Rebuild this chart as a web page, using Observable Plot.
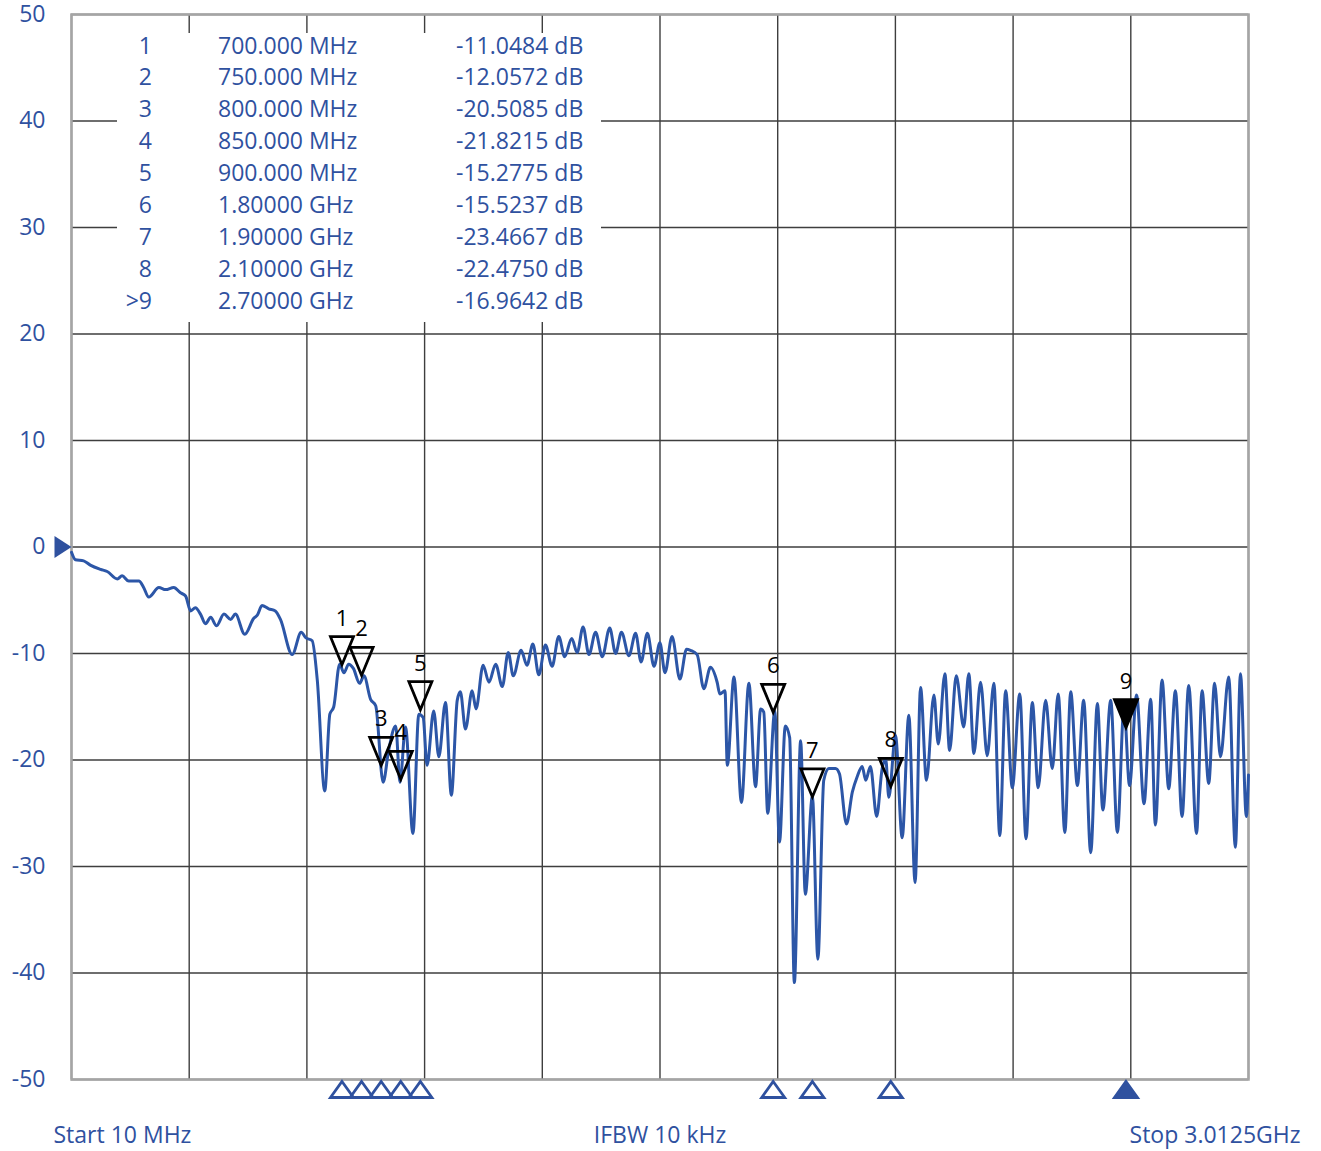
<!DOCTYPE html>
<html>
<head>
<meta charset="utf-8">
<script src="https://cdn.jsdelivr.net/npm/d3@7"></script>
<script src="https://cdn.jsdelivr.net/npm/@observablehq/plot@0.6"></script>
<style>
  html, body { margin: 0; padding: 0; background: #fff; }
  #chart { width: 1321px; height: 1151px; }
</style>
</head>
<body>
<div id="chart"></div>
<script>
// ---------- sweep settings ----------
const startMHz = 10;
const stopMHz = 3012.5;
const startLabel = "Start 10 MHz";
const centerLabel = "IFBW 10 kHz";
const stopLabel = "Stop 3.0125GHz";

// ---------- y axis ----------
const yTicks = [50, 40, 30, 20, 10, 0, -10, -20, -30, -40, -50];
const referenceLevel = 0;

// ---------- trace (frequency in MHz, return loss in dB) ----------
const traceFreqMHz = [
  10, 20, 41, 58, 84, 101, 127, 139, 156, 182,
  194, 207, 233, 250, 271, 288, 301, 314, 326, 339,
  352, 365, 380, 399, 416, 428, 452, 475, 484, 496,
  513, 530, 543, 573, 596, 607, 624, 637, 656, 669,
  679, 694, 705, 717, 729, 745, 756, 773, 786, 805,
  819, 837, 848, 862, 881, 896, 907, 917, 934, 947,
  964, 979, 994, 1002, 1015, 1032, 1042, 1060, 1075, 1092,
  1109, 1124, 1137, 1157, 1172, 1187, 1202, 1219, 1236, 1253,
  1268, 1286, 1300, 1315, 1330, 1347, 1364, 1383, 1398, 1413,
  1432, 1449, 1463, 1479, 1496, 1511, 1524, 1542, 1562, 1579,
  1589, 1606, 1623, 1640, 1657, 1664, 1677, 1683, 1700, 1719,
  1738, 1755, 1768, 1776, 1786, 1804, 1816, 1831, 1842, 1854,
  1870, 1882, 1900, 1914, 1929, 1942, 1959, 1969, 1987, 2002,
  2014, 2027, 2036, 2048, 2064, 2078, 2087, 2095, 2112, 2129,
  2146, 2162, 2176, 2191, 2210, 2221, 2238, 2250, 2267, 2286,
  2299, 2312, 2329, 2346, 2363, 2378, 2393, 2410, 2429, 2445,
  2461, 2476, 2495, 2512, 2527, 2544, 2559, 2576, 2592, 2610,
  2627, 2641, 2661, 2678, 2695, 2709, 2727, 2746, 2763, 2775,
  2792, 2809, 2826, 2843, 2860, 2880, 2894, 2911, 2926, 2941,
  2962, 2979, 2992, 3007, 3012.5
];
const traceDb = [
  -0.5, -1.2, -1.3, -1.7, -2.1, -2.3, -3.0, -2.7, -3.2, -3.2,
  -3.8, -4.7, -3.8, -4.0, -3.8, -4.3, -4.6, -6.0, -5.7, -6.3,
  -7.2, -6.6, -7.4, -6.3, -6.8, -6.3, -8.2, -6.7, -6.4, -5.5,
  -5.8, -6.0, -6.8, -10.1, -8.0, -8.5, -8.8, -12.5, -22.9, -15.7,
  -15.0, -11.0, -11.8, -11.0, -11.4, -12.8, -12.1, -14.3, -14.9, -22.1,
  -19.1, -16.8, -22.1, -16.9, -26.9, -15.7, -16.0, -20.5, -15.4, -19.7,
  -14.6, -23.3, -14.4, -13.6, -17.1, -13.5, -15.2, -11.1, -12.7, -11.0,
  -13.1, -9.9, -12.1, -9.7, -11.1, -9.1, -12.0, -9.2, -11.2, -8.4,
  -10.3, -8.6, -9.9, -7.5, -10.1, -8.0, -10.3, -7.6, -10.0, -8.0,
  -10.2, -8.1, -10.8, -8.1, -11.2, -9.0, -11.8, -8.4, -12.4, -9.6,
  -9.7, -10.1, -13.3, -11.3, -12.7, -13.8, -13.5, -20.5, -12.2, -24.0,
  -12.8, -22.5, -15.2, -15.5, -25.0, -15.4, -27.7, -16.8, -17.9, -40.9,
  -18.2, -32.6, -23.4, -38.7, -21.9, -20.8, -20.8, -21.3, -26.0, -23.0,
  -21.6, -20.6, -21.9, -20.6, -25.3, -20.8, -19.9, -23.5, -17.7, -27.3,
  -15.8, -31.5, -13.2, -21.9, -13.9, -18.5, -11.9, -19.1, -12.1, -16.9,
  -11.9, -19.4, -12.7, -19.6, -12.8, -27.1, -13.5, -22.6, -13.8, -27.4,
  -14.6, -22.6, -14.4, -20.8, -13.8, -26.8, -13.6, -22.4, -14.4, -28.7,
  -14.7, -24.7, -14.4, -26.8, -15.0, -22.4, -13.9, -24.1, -14.3, -26.1,
  -12.5, -22.7, -13.5, -25.3, -13.0, -26.9, -13.5, -22.2, -12.8, -19.7,
  -12.2, -28.2, -11.9, -25.3, -21.4
];

// ---------- markers ----------
const markerIds = ["1", "2", "3", "4", "5", "6", "7", "8", "9"];
const markerTableIds = ["1", "2", "3", "4", "5", "6", "7", "8", ">9"];
const markerFreqMHz = [700, 750, 800, 850, 900, 1800, 1900, 2100, 2700];
const markerFreqText = ["700.000 MHz", "750.000 MHz", "800.000 MHz", "850.000 MHz", "900.000 MHz",
                        "1.80000 GHz", "1.90000 GHz", "2.10000 GHz", "2.70000 GHz"];
const markerDb = [-11.0484, -12.0572, -20.5085, -21.8215, -15.2775, -15.5237, -23.4667, -22.4750, -16.9642];
const activeMarker = "9";

// ---------- build tables ----------
const traceRows = traceFreqMHz.map((f, i) => ({f, db: traceDb[i]}));
const markers = markerIds.map((id, i) => ({
  id, tableId: markerTableIds[i], f: markerFreqMHz[i], db: markerDb[i],
  fText: markerFreqText[i], dbText: markerDb[i].toFixed(4) + " dB",
  active: id === activeMarker
}));
const xGrid = d3.range(11).map(i => startMHz + i * (stopMHz - startMHz) / 10);

// ---------- styles ----------
const textBlue = "#2f519f";
const traceBlue = "#2c56a7";
const gridColor = "#3e3e3e";
const font = "'Open Sans', sans-serif";

// custom symbols (tip at the data point)
const downTri = {draw(c) { c.moveTo(-11.5, -28); c.lineTo(11.5, -28); c.lineTo(0, 0); c.closePath(); }};
const upTri = {draw(c) { c.moveTo(0, 0); c.lineTo(11.5, 16); c.lineTo(-11.5, 16); c.closePath(); }};
const rightTri = {draw(c) { c.moveTo(0, 0); c.lineTo(-17, -11); c.lineTo(-17, 11); c.closePath(); }};

const plot = Plot.plot({
  width: 1321,
  height: 1151,
  marginLeft: 71,
  marginRight: 73,
  marginTop: 14,
  marginBottom: 72,
  x: {domain: [startMHz, stopMHz], axis: null},
  y: {domain: [-50, 50], axis: null},
  style: {fontFamily: font, background: "#fff"},
  marks: [
    Plot.ruleY(yTicks, {stroke: gridColor, strokeWidth: 1.4}),
    Plot.ruleX(xGrid, {stroke: gridColor, strokeWidth: 1.4}),
    Plot.frame({stroke: "#a5a5a5", strokeWidth: 2.5}),
    Plot.line(traceRows, {x: "f", y: "db", stroke: traceBlue, strokeWidth: 3, strokeLinejoin: "round", curve: "monotone-x"}),
    // markers on the trace
    Plot.dot(markers.filter(d => !d.active), {x: "f", y: "db", symbol: downTri, fill: "none", stroke: "#000", strokeWidth: 2.8}),
    Plot.dot(markers.filter(d => d.active), {x: "f", y: "db", symbol: downTri, fill: "#000", stroke: "#000", strokeWidth: 2.8}),
    Plot.text(markers, {x: "f", y: "db", text: "id", dy: -46, fontSize: 22, fill: "#000"}),
    // marker indicators at bottom
    Plot.dot(markers.filter(d => !d.active), {x: "f", y: () => -50, symbol: upTri, dy: 2, fill: "none", stroke: textBlue, strokeWidth: 2.8}),
    Plot.dot(markers.filter(d => d.active), {x: "f", y: () => -50, symbol: upTri, dy: 2, fill: textBlue, stroke: textBlue, strokeWidth: 2.8}),
    // reference level arrow
    Plot.dot([referenceLevel], {x: () => startMHz, y: d => d, symbol: rightTri, fill: textBlue, stroke: "none"}),
    // y labels
    Plot.text(yTicks, {y: d => d, text: d => String(d), frameAnchor: "left", textAnchor: "end", dx: -26, fontSize: 23, fill: textBlue}),
    // bottom annotations
    Plot.text([startLabel], {frameAnchor: "bottom-left", textAnchor: "start", lineAnchor: "bottom", dx: -18, dy: 63, fontSize: 23, fill: textBlue}),
    Plot.text([centerLabel], {frameAnchor: "bottom", textAnchor: "middle", lineAnchor: "bottom", dy: 63, fontSize: 23, fill: textBlue}),
    Plot.text([stopLabel], {frameAnchor: "bottom-right", textAnchor: "end", lineAnchor: "bottom", dx: 52, dy: 63, fontSize: 23, fill: textBlue})
  ]
});

document.getElementById("chart").appendChild(plot);

// ---------- marker table (white panel over the grid) ----------
const svg = d3.select(plot);
const g = svg.append("g")
  .attr("font-family", font)
  .attr("font-size", 23)
  .attr("text-anchor", "start")
  .attr("fill", textBlue);
g.append("rect").attr("x", 117).attr("y", 33).attr("width", 484).attr("height", 289).attr("fill", "#fff");
const rowY = i => 45.5 + i * 31.9;
markers.forEach((m, i) => {
  g.append("text").attr("x", 152).attr("y", rowY(i)).attr("dy", "0.35em").attr("text-anchor", "end").text(m.tableId);
  g.append("text").attr("x", 218).attr("y", rowY(i)).attr("dy", "0.35em").attr("text-anchor", "start").text(m.fText);
  g.append("text").attr("x", 456).attr("y", rowY(i)).attr("dy", "0.35em").attr("text-anchor", "start").text(m.dbText);
});
</script>
</body>
</html>
